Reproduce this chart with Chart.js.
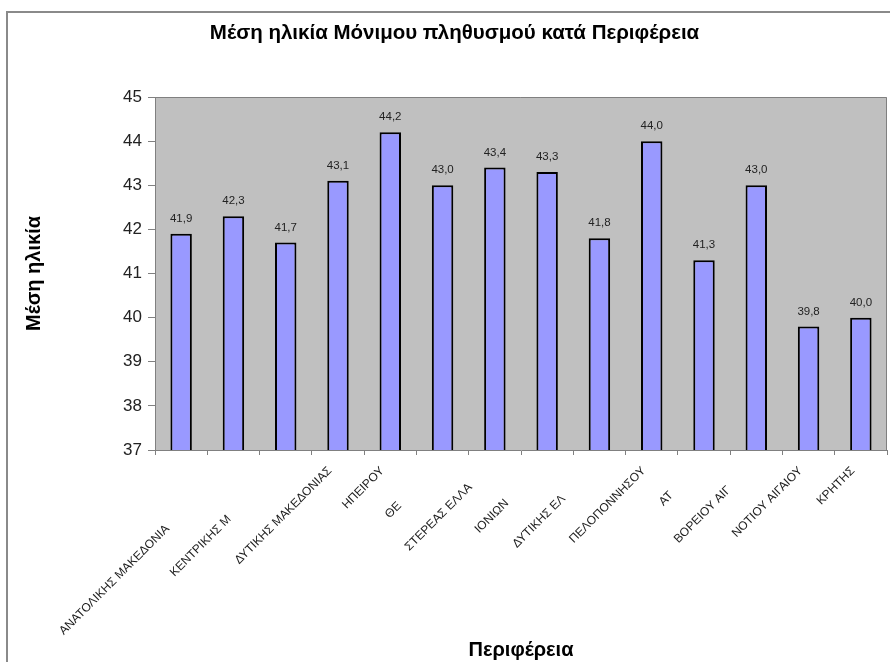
<!DOCTYPE html>
<html><head><meta charset="utf-8">
<script src="https://cdn.jsdelivr.net/npm/chart.js@4"></script>
<style>
html,body{margin:0;padding:0;background:#fff;}
#wrap{position:relative;width:890px;height:662px;overflow:hidden;}
#frame{position:absolute;left:6px;top:11px;width:900px;height:700px;border-left:2px solid #8a8a8a;border-top:2px solid #8a8a8a;}
canvas{position:absolute;left:0;top:0;}
</style></head><body>
<div id="wrap"><div id="frame"></div><canvas id="c" width="890" height="662"></canvas></div>
<script>
const categories = ["ΣΥΝΟΛΟ ΧΩΡΑΣ", "ΑΝΑΤΟΛΙΚΗΣ ΜΑΚΕΔΟΝΙΑΣ ΚΑΙ ΘΡΑΚΗΣ", "ΚΕΝΤΡΙΚΗΣ ΜΑΚΕΔΟΝΙΑΣ", "ΔΥΤΙΚΗΣ ΜΑΚΕΔΟΝΙΑΣ", "ΗΠΕΙΡΟΥ", "ΘΕΣΣΑΛΙΑΣ", "ΣΤΕΡΕΑΣ ΕΛΛΑΔΑΣ", "ΙΟΝΙΩΝ ΝΗΣΩΝ", "ΔΥΤΙΚΗΣ ΕΛΛΑΔΑΣ", "ΠΕΛΟΠΟΝΝΗΣΟΥ", "ΑΤΤΙΚΗΣ", "ΒΟΡΕΙΟΥ ΑΙΓΑΙΟΥ", "ΝΟΤΙΟΥ ΑΙΓΑΙΟΥ", "ΚΡΗΤΗΣ"];
const shownLabels = ["", "ΑΝΑΤΟΛΙΚΗΣ ΜΑΚΕΔΟΝΙΑ", "ΚΕΝΤΡΙΚΗΣ Μ", "ΔΥΤΙΚΗΣ ΜΑΚΕΔΟΝΙΑΣ", "ΗΠΕΙΡΟΥ", "ΘΕ", "ΣΤΕΡΕΑΣ ΕΛΛΑ", "ΙΟΝΙΩΝ", "ΔΥΤΙΚΗΣ ΕΛ", "ΠΕΛΟΠΟΝΝΗΣΟΥ", "ΑΤ", "ΒΟΡΕΙΟΥ ΑΙΓ", "ΝΟΤΙΟΥ ΑΙΓΑΙΟΥ", "ΚΡΗΤΗΣ"];
const values = [41.9, 42.3, 41.7, 43.1, 44.2, 43.0, 43.4, 43.3, 41.8, 44.0, 41.3, 43.0, 39.8, 40.0];
const yMin = 37, yMax = 45, yStep = 1;
const titleText = "Μέση ηλικία Μόνιμου πληθυσμού κατά Περιφέρεια";
const yTitle = "Μέση ηλικία";
const xTitle = "Περιφέρεια";

const FONT = "'Liberation Sans', Arial, sans-serif";

const plotBg = {
  id: 'plotBg',
  beforeDraw(chart) {
    const {ctx, chartArea: a} = chart;
    ctx.save();
    ctx.fillStyle = '#c0c0c0';
    ctx.fillRect(a.left, a.top, a.right - a.left, a.bottom - a.top);
    ctx.strokeStyle = '#808080';
    ctx.lineWidth = 1;
    ctx.beginPath();
    ctx.moveTo(a.left, a.top + 0.5); ctx.lineTo(a.right - 0.5, a.top + 0.5); ctx.lineTo(a.right - 0.5, a.bottom);
    ctx.stroke();
    ctx.restore();
  }
};

const valueLabels = {
  id: 'valueLabels',
  afterDatasetsDraw(chart) {
    const {ctx} = chart;
    const meta = chart.getDatasetMeta(0);
    ctx.save();
    ctx.font = "11.5px " + FONT;
    ctx.fillStyle = '#222';
    ctx.textAlign = 'center';
    ctx.textBaseline = 'middle';
    meta.data.forEach((bar, i) => {
      ctx.fillText(values[i].toFixed(1).replace('.', ','), bar.x, bar.y - 15);
    });
    ctx.restore();
  }
};

const catLabels = {
  id: 'catLabels',
  afterDraw(chart) {
    const {ctx} = chart;
    const xs = chart.scales.x;
    const base = chart.chartArea.bottom;
    ctx.save();
    ctx.font = "12px " + FONT;
    ctx.fillStyle = '#1e1e1e';
    ctx.textAlign = 'left';
    ctx.textBaseline = 'middle';
    categories.forEach((cat, i) => {
      const x = xs.getPixelForValue(i);
      const fullW = ctx.measureText(cat).width;
      ctx.save();
      ctx.translate(x - 8, base + 19);
      ctx.rotate(-Math.PI / 4);
      ctx.fillText(shownLabels[i], -fullW, 0);
      ctx.restore();
    });
    ctx.restore();
  }
};

new Chart(document.getElementById('c'), {
  type: 'bar',
  data: {
    labels: categories,
    datasets: [{
      data: values,
      backgroundColor: '#9999ff',
      borderColor: '#000',
      borderWidth: 2,
      barPercentage: 0.41,
      categoryPercentage: 1.0
    }]
  },
  options: {
    responsive: false,
    animation: false,
    layout: { padding: { left: 22, right: 3, top: 0, bottom: 0 } },
    plugins: {
      legend: { display: false },
      tooltip: { enabled: false },
      title: {
        display: true,
        text: titleText,
        color: '#000',
        font: { family: FONT, size: 20.5, weight: 'bold' },
        padding: { top: 21, bottom: 51.4 }
      }
    },
    scales: {
      x: {
        grid: { display: true, drawOnChartArea: false, tickLength: 5, color: '#808080' },
        border: { display: true, color: '#808080', width: 1 },
        ticks: { display: false },
        title: {
          display: true, text: xTitle, color: '#000',
          font: { family: FONT, size: 20, weight: 'bold' },
          padding: { top: 0, bottom: 0 }
        },
        afterFit(s) { s.height = 212; }
      },
      y: {
        min: yMin, max: yMax,
        ticks: { stepSize: yStep, color: '#222', padding: 6, font: { family: FONT, size: 17 } },
        grid: { display: true, drawOnChartArea: false, tickLength: 7, color: '#808080' },
        border: { display: true, color: '#808080', width: 1 },
        title: {
          display: true, text: yTitle, color: '#000',
          font: { family: FONT, size: 20, weight: 'bold' },
          padding: { top: 0, bottom: 0 }
        },
        afterFit(s) { s.width = 133; }
      }
    }
  },
  plugins: [plotBg, valueLabels, catLabels]
});
</script>
</body></html>
